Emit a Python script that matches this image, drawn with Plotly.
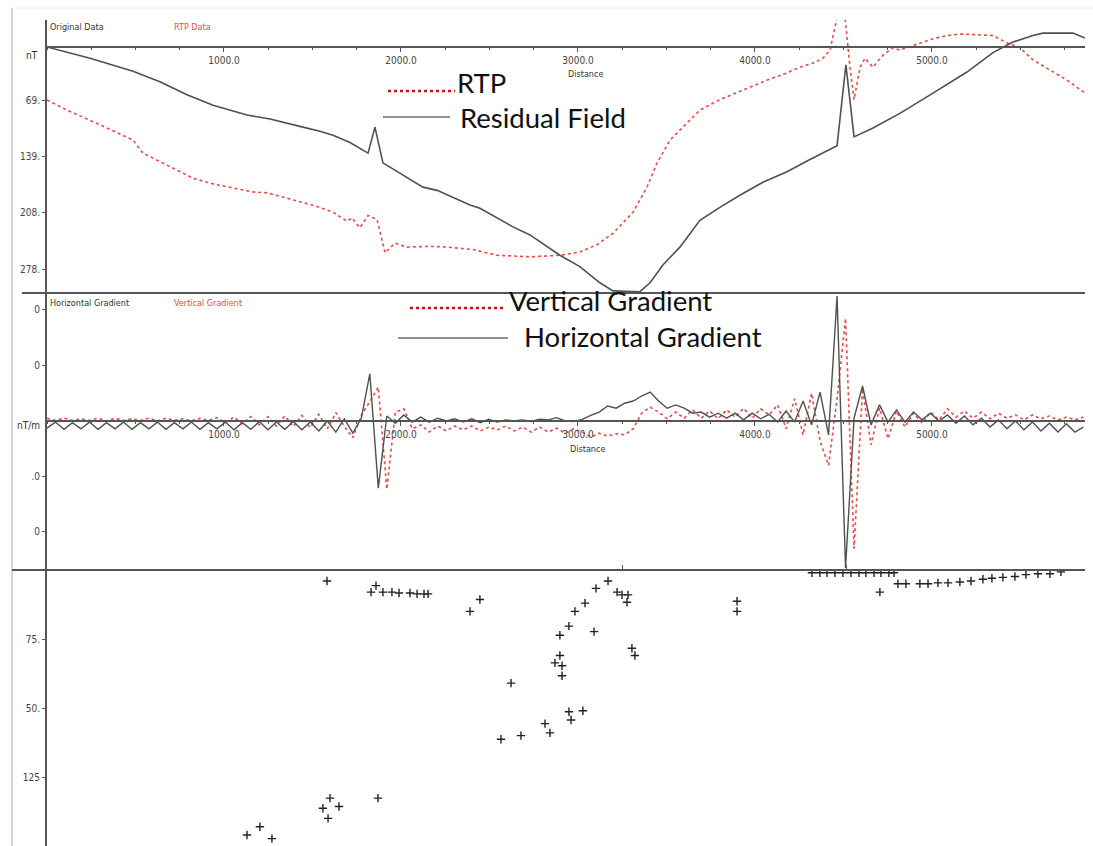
import plotly.graph_objects as go

W, H = 1093, 846


def px(x):
    return x / W


def py(y):
    return 1 - y / H


# ---------------- Top panel: magnetic profile (nT) ----------------
residual_dist = [0, 243, 486, 638, 791, 938, 1130, 1260, 1429, 1542, 1616, 1712, 1814, 1853,
                 1898, 1994, 2124, 2204, 2390, 2446, 2633, 2729, 2898, 3011, 3124, 3198, 3350,
                 3407, 3480, 3576, 3689, 3802, 3915, 4045, 4181, 4311, 4464, 4514, 4560, 4667,
                 4819, 5006, 5198, 5345, 5458, 5571, 5627, 5797, 5865]
residual_nt = [-4, -18, -34, -47, -63, -76, -88, -93, -102, -108, -113, -122, -135, -103,
               -147, -160, -177, -181, -199, -203, -226, -236, -261, -275, -295, -305, -306,
               -295, -273, -251, -218, -202, -187, -171, -158, -143, -126, -26, -115, -104,
               -86, -61, -35, -11, 2, 10, 13, 13, 7]

rtp_dist = [0, 113, 299, 486, 542, 655, 825, 938, 1051, 1164, 1243, 1333, 1429, 1525, 1616,
            1695, 1723, 1768, 1814, 1865, 1910, 1966, 2034, 2164, 2260, 2407, 2543, 2729,
            2898, 3011, 3108, 3198, 3311, 3390, 3447, 3520, 3633, 3689, 3802, 3932, 4068,
            4181, 4254, 4328, 4384, 4424, 4464, 4509, 4537, 4560, 4594, 4622, 4667, 4724,
            4780, 4819, 4893, 4989, 5085, 5158, 5255, 5345, 5424, 5497, 5571, 5667, 5763, 5865]
rtp_nt = [-69.5, -82, -100, -119, -135, -147, -166, -173, -178, -183, -184, -189, -195, -201,
          -208, -219, -215, -227, -212, -217, -258, -246, -251, -250, -251, -254, -261, -263,
          -261, -257, -248, -234, -208, -177, -147, -119, -94, -82, -69, -57, -45, -36, -29,
          -24, -18, -8, 32, 32, -29, -69, -29, -18, -29, -14, -5, -8, -2, 5, 10, 12, 11, 10,
          1, -5, -20, -32, -45, -61]

# ---------------- Middle panel: gradients (nT/m) ----------------
station_step_m = 48
horizontal_grad = [
    -1.3, -0.2, -1.5, -0.3, -1.4, -0.2, -1.5, -0.3, -1.4, -0.2,
    -1.5, -0.3, -1.4, -0.2, -1.5, -0.3, -1.4, -0.2, -1.5, -0.3,
    -1.4, -0.2, -1.6, -0.3, -1.5, -0.1, -1.6, -0.2, -1.5, -0.1,
    -1.6, -0.2, -1.8, 0.0, -2.0, 0.4, -2.2, 0.5, 8.5, -12.1,
    0.9, -0.4, 1.1, -0.2, 0.7, -0.2, 0.5, 0.0, 0.4, -0.2,
    0.4, -0.3, 0.3, -0.2, 0.2, 0.0, 0.2, -0.1, 0.3, 0.2,
    0.6, 0.0, -0.1, 0.3, 1.0, 1.6, 2.7, 2.3, 3.2, 3.6,
    4.5, 5.2, 3.6, 2.3, 2.9, 2.3, 1.4, 1.6, 0.7, 1.4,
    0.5, 1.4, 0.2, 1.4, 0.4, 1.2, -0.2, 1.8, -0.2, 3.6,
    -0.7, 5.2, -2.5, 22.5, -26.5, 0.5, 6.3, -0.7, 2.9, -0.2,
    2.0, -0.2, 1.6, 0.2, 1.4, 0.0, 1.1, -0.4, 0.9, -0.7,
    0.5, -1.1, 0.2, -1.4, 0.0, -1.6, -0.2, -1.8, -0.4, -2.0,
    -0.5, -2.0, -1.1]
vertical_grad = [
    0.5, 0.1, 0.5, 0.1, 0.4, 0.1, 0.5, 0.0, 0.5, 0.1,
    0.4, 0.1, 0.5, 0.0, 0.5, 0.1, 0.4, 0.0, 0.5, 0.1,
    0.6, -0.3, 0.7, -0.5, 0.8, -0.7, 0.8, -0.9, 0.9, -1.0,
    1.0, -1.2, 1.2, -1.4, 1.5, -1.0, -3.0, 1.0, 3.5, 6.1,
    -12.3, 1.6, 2.2, -1.4, -0.7, -2.0, -0.9, -1.8, -0.9, -1.6,
    -0.9, -1.8, -1.1, -1.6, -0.9, -1.8, -1.1, -2.0, -1.1, -2.0,
    -1.3, -2.2, -1.4, -2.0, -2.9, -2.2, -2.7, -2.3, -2.5, -1.4,
    1.4, 2.5, 1.6, 0.4, 1.6, 0.5, 2.0, 0.5, 1.8, 0.4,
    2.0, 0.7, 2.3, 0.5, 2.2, 1.1, 2.9, -1.4, 4.0, -2.5,
    5.0, -3.6, -8.0, 4.0, 18.5, -23.0, 5.8, -4.3, 2.3, -3.2,
    1.8, -1.1, 1.4, -0.4, 1.6, 0.2, 2.2, 0.7, 1.8, 0.5,
    1.6, 0.4, 1.4, 0.5, 1.1, 0.2, 1.1, 0.4, 0.9, 0.2,
    0.7, 0.2, 0.7]
stations = [k * station_step_m for k in range(len(horizontal_grad))]

# ---------------- Bottom panel: Euler solutions ----------------
euler_dist = [1582, 1831, 1859, 1898, 1949, 1989, 2051, 2091, 2130, 2153, 2390, 2446,
              2622, 2565, 2678, 2814, 2842, 2898, 2949, 2983, 3040, 3091, 3102, 3170,
              3221, 3249, 3283, 3277, 3305, 3322, 2898, 2870, 2910, 2910, 2949, 2961,
              3028, 3899, 3899,
              4322, 4367, 4407, 4452, 4497, 4543, 4588, 4627, 4673, 4712, 4757, 4786,
              4706, 4808, 4853, 4932, 4978, 5034, 5091, 5158, 5221, 5288, 5339, 5401,
              5469, 5531, 5599, 5667, 5729,
              1599, 1559, 1650, 1588, 1870, 1130, 1203, 1271]
euler_depth = [12, 24, 17, 24, 24, 25, 25, 26, 26, 26, 45, 32,
               123, 184, 180, 167, 177, 71, 61, 45, 36, 67, 20, 12,
               24, 27, 27, 35, 85, 93, 93, 101, 104, 115, 154, 163,
               153, 34, 45,
               3, 3, 3, 3, 3, 3, 3, 3, 3, 3, 3, 3,
               24, 15, 15, 15, 15, 14, 14, 13, 12, 10, 9, 8,
               7, 5, 4, 4, 2,
               248, 259, 257, 270, 248, 288, 279, 292]

x_ticks = [1000, 2000, 3000, 4000, 5000]
x_ticktext = ["1000.0", "2000.0", "3000.0", "4000.0", "5000.0"]
top_ticks = [-69.5, -139, -208.5, -278]
top_ticktext = ["69.", "139.", "208.", "278."]
mid_ticks = [20, 10, -10, -20]
mid_ticktext = ["0", "0", ".0", "0"]
bot_ticks = [75, 150, 225]
bot_ticktext = ["75.", "50.", "125"]

AX = "#555555"
RED = "#f04848"
NARROW = "DejaVu Sans Condensed, Liberation Sans Narrow, Arial Narrow, sans-serif"
BIG = "Lato, Open Sans, sans-serif"

fig = go.Figure()
fig.add_trace(go.Scatter(x=rtp_dist, y=rtp_nt, mode="lines", xaxis="x", yaxis="y",
                         line=dict(color=RED, width=1.6, dash="dot"), showlegend=False))
fig.add_trace(go.Scatter(x=residual_dist, y=residual_nt, mode="lines", xaxis="x", yaxis="y",
                         line=dict(color="#505050", width=1.6), showlegend=False))
fig.add_trace(go.Scatter(x=stations, y=vertical_grad, mode="lines", xaxis="x2", yaxis="y2",
                         line=dict(color=RED, width=1.6, dash="dot"), showlegend=False))
fig.add_trace(go.Scatter(x=stations, y=horizontal_grad, mode="lines", xaxis="x2", yaxis="y2",
                         line=dict(color="#505050", width=1.4), showlegend=False))
fig.add_trace(go.Scatter(x=euler_dist, y=euler_depth, mode="markers", xaxis="x3", yaxis="y3",
                         marker=dict(symbol="cross-thin", size=6, line=dict(color="#222222", width=1.4)),
                         showlegend=False))

xdom = [px(47), px(1085)]
xr = [0, 5865]
xcommon = dict(domain=xdom, range=xr, showgrid=False, zeroline=False, showline=True,
               linecolor=AX, linewidth=2, ticks="outside", ticklen=4, tickcolor=AX,
               tickvals=x_ticks, ticktext=x_ticktext,
               tickfont=dict(family=NARROW, size=10, color="#444"),
               minor=dict(dtick=250, tick0=0, ticks="outside", ticklen=2, tickcolor=AX),
               anchor="free", fixedrange=True)

fig.update_layout(
    width=W, height=H, margin=dict(l=0, r=0, t=0, b=0),
    paper_bgcolor="white", plot_bgcolor="white",
    xaxis=dict(xcommon, position=py(47)),
    xaxis2=dict(xcommon, position=py(421)),
    xaxis3=dict(domain=xdom, range=xr, showgrid=False, zeroline=False, showline=False,
                ticks="outside", ticklen=4, tickcolor=AX, side="top",
                tickvals=[3250, 4520], showticklabels=False, anchor="y3", fixedrange=True),
    yaxis=dict(domain=[py(293), py(20)], range=[-307.6, 29.2], anchor="x",
               showgrid=False, zeroline=False, showline=True, linecolor=AX, linewidth=2,
               ticks="outside", ticklen=3, tickcolor=AX, tickvals=top_ticks, ticktext=top_ticktext,
               tickfont=dict(family=NARROW, size=10, color="#444"), fixedrange=True),
    yaxis2=dict(domain=[py(570), py(293)], range=[-26.85, 23.06], anchor="x2",
                showgrid=False, zeroline=False, showline=True, linecolor=AX, linewidth=2,
                ticks="outside", ticklen=3, tickcolor=AX, tickvals=mid_ticks, ticktext=mid_ticktext,
                tickfont=dict(family=NARROW, size=10, color="#444"), fixedrange=True),
    yaxis3=dict(domain=[0, py(570)], range=[300, 0], anchor="x3",
                showgrid=False, zeroline=False, showline=True, linecolor=AX, linewidth=2,
                ticks="outside", ticklen=3, tickcolor=AX, tickvals=bot_ticks, ticktext=bot_ticktext,
                tickfont=dict(family=NARROW, size=10, color="#444"), fixedrange=True),
)

shapes = [
    # outer frame
    dict(type="line", xref="paper", yref="paper", x0=px(12), x1=px(12), y0=0, y1=py(8),
         line=dict(color="#c8c8c8", width=1.5)),
    dict(type="line", xref="paper", yref="paper", x0=px(12), x1=1, y0=py(8), y1=py(8),
         line=dict(color="#ececec", width=1)),
    # panel dividers
    dict(type="line", xref="paper", yref="paper", x0=px(22), x1=px(1085), y0=py(293), y1=py(293),
         line=dict(color=AX, width=2)),
    dict(type="line", xref="paper", yref="paper", x0=px(12), x1=px(1085), y0=py(570), y1=py(570),
         line=dict(color=AX, width=2)),
    # legend keys
    dict(type="line", xref="paper", yref="paper", x0=px(388), x1=px(455), y0=py(91), y1=py(91),
         line=dict(color="#d01010", width=2.5, dash="dot")),
    dict(type="line", xref="paper", yref="paper", x0=px(383), x1=px(450), y0=py(117), y1=py(117),
         line=dict(color="#222", width=1.2)),
    dict(type="line", xref="paper", yref="paper", x0=px(410), x1=px(506), y0=py(308), y1=py(308),
         line=dict(color="#d01010", width=2.5, dash="dot")),
    dict(type="line", xref="paper", yref="paper", x0=px(398), x1=px(508), y0=py(338), y1=py(338),
         line=dict(color="#222", width=1.2)),
]
fig.update_layout(shapes=shapes)


def note(x, y, text, size=10, color="#333", family=NARROW, xanchor="left"):
    fig.add_annotation(x=px(x), y=py(y), xref="paper", yref="paper", text=text, showarrow=False,
                       xanchor=xanchor, yanchor="middle",
                       font=dict(family=family, size=size, color=color))


note(48, 27, "Original Data", size=9)
note(172, 27, "RTP Data", size=9, color=RED)
note(48, 303, "Horizontal Gradient", size=9)
note(172, 303, "Vertical Gradient", size=9, color=RED)
note(585, 74, "Distance", size=9, xanchor="center")
note(587, 449, "Distance", size=9, xanchor="center")
note(40, 56, "nT", xanchor="right")
note(42, 426, "nT/m", xanchor="right")

note(455, 83, "RTP", size=27.5, color="#111", family=BIG)
note(458, 118, "Residual Field", size=27.5, color="#111", family=BIG)
note(507, 300, "Vertical Gradient", size=27.5, color="#111", family=BIG)
note(522, 337, "Horizontal Gradient", size=27.5, color="#111", family=BIG)

fig.write_html("out.html")
